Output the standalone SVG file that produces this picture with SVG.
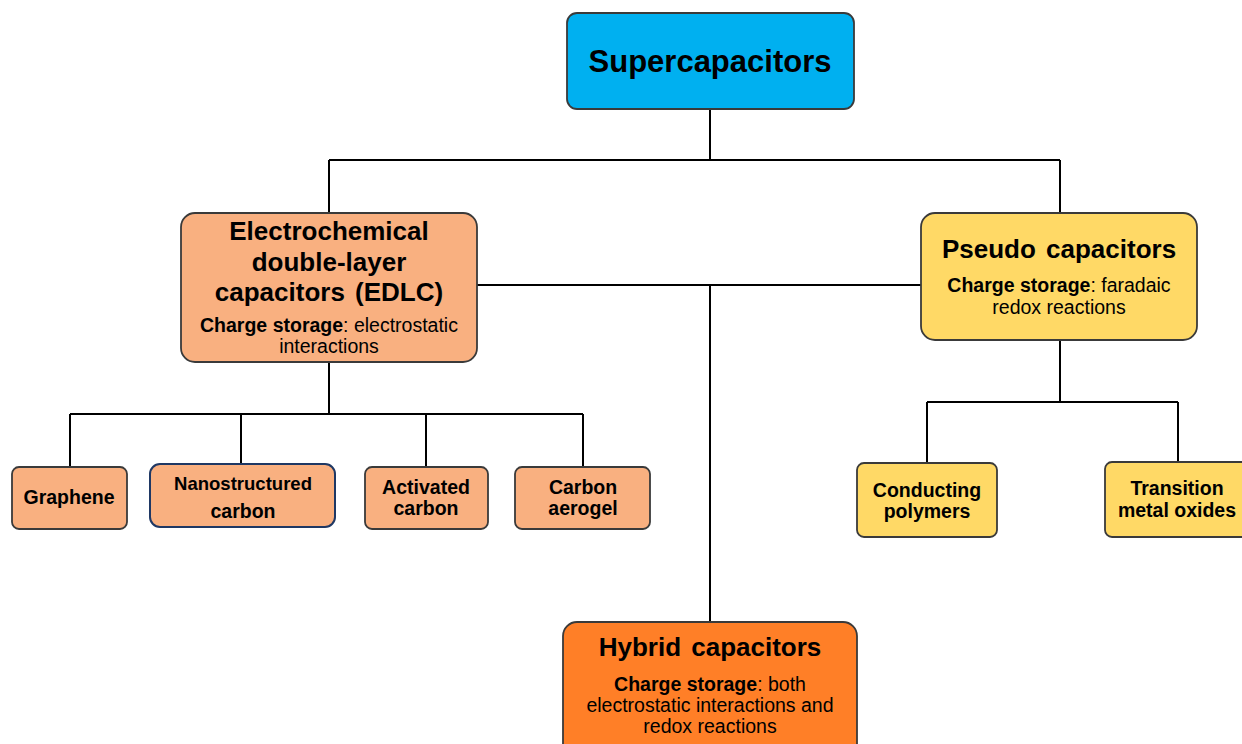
<svg xmlns="http://www.w3.org/2000/svg" width="1242" height="744" viewBox="0 0 1242 744">
<style>
.box{stroke:#3a3a3a;stroke-width:1.8}
.blue{fill:#00B0F0}
.lo{fill:#F9B080}
.ye{fill:#FFD966}
.or{fill:#FF7F27}
text{font-family:"Liberation Sans",Arial,sans-serif;fill:#000;text-anchor:middle}
.t1{font-size:31px;font-weight:bold}
.t2{font-size:26px;font-weight:bold;word-spacing:3px}
.t3{font-size:19.5px}
.t4{font-size:19.5px;font-weight:bold}
.b{font-weight:bold}
.wire{stroke:#000;stroke-width:2;fill:none}
</style>
<rect width="1242" height="744" fill="#fff"/>
<g id="connectors" class="wire">
<path d="M710 109V160M329 160H1060M329 160V213M1060 160V213"/>
<path d="M477 285H921M710 285V622"/>
<path d="M329 362V414M70 414H583M70 414V467M241 414V464M426 414V467M583 414V467"/>
<path d="M1060 340V402M927 402H1178M927 402V463M1178 402V462"/>
</g>
<g id="supercapacitors">
<rect class="box blue" x="567" y="13" width="287" height="96" rx="10"/>
<text class="t1" x="710" y="72">Supercapacitors</text>
</g>
<g id="edlc">
<rect class="box lo" x="181" y="213" width="296" height="149" rx="14"/>
<text class="t2" x="329" y="240">Electrochemical</text>
<text class="t2" x="329" y="271">double-layer</text>
<text class="t2" x="329" y="301">capacitors (EDLC)</text>
<text class="t3" x="329" y="332"><tspan class="b">Charge storage</tspan>: electrostatic</text>
<text class="t3" x="329" y="353">interactions</text>
</g>
<g id="pseudo">
<rect class="box ye" x="921" y="213" width="276" height="127" rx="14"/>
<text class="t2" x="1059" y="258">Pseudo capacitors</text>
<text class="t3" x="1059" y="292"><tspan class="b">Charge storage</tspan>: faradaic</text>
<text class="t3" x="1059" y="314">redox reactions</text>
</g>
<g id="hybrid">
<rect class="box or" x="563" y="622" width="294" height="140" rx="14"/>
<text class="t2" x="710" y="656">Hybrid capacitors</text>
<text class="t3" x="710" y="691"><tspan class="b">Charge storage</tspan>: both</text>
<text class="t3" x="710" y="712">electrostatic interactions and</text>
<text class="t3" x="710" y="733">redox reactions</text>
</g>
<g id="graphene">
<rect class="box lo" x="12" y="467" width="115" height="62" rx="7"/>
<text class="t4" x="69" y="504">Graphene</text>
</g>
<g id="nanostructured">
<rect class="lo" x="150" y="464" width="185" height="63" rx="10" stroke="#1F3864" stroke-width="2"/>
<text class="t4" x="243" y="490" style="font-size:19px" textLength="138" lengthAdjust="spacingAndGlyphs">Nanostructured</text>
<text class="t4" x="243" y="518">carbon</text>
</g>
<g id="activated">
<rect class="box lo" x="365" y="467" width="123" height="62" rx="7"/>
<text class="t4" x="426" y="494">Activated</text>
<text class="t4" x="426" y="515">carbon</text>
</g>
<g id="aerogel">
<rect class="box lo" x="515" y="467" width="135" height="62" rx="7"/>
<text class="t4" x="583" y="494">Carbon</text>
<text class="t4" x="583" y="515">aerogel</text>
</g>
<g id="conducting">
<rect class="box ye" x="857" y="463" width="140" height="74" rx="7"/>
<text class="t4" x="927" y="497">Conducting</text>
<text class="t4" x="927" y="518">polymers</text>
</g>
<g id="transition">
<rect class="box ye" x="1105" y="462" width="150" height="75" rx="7"/>
<text class="t4" x="1177" y="495">Transition</text>
<text class="t4" x="1177" y="517">metal oxides</text>
</g>
</svg>
